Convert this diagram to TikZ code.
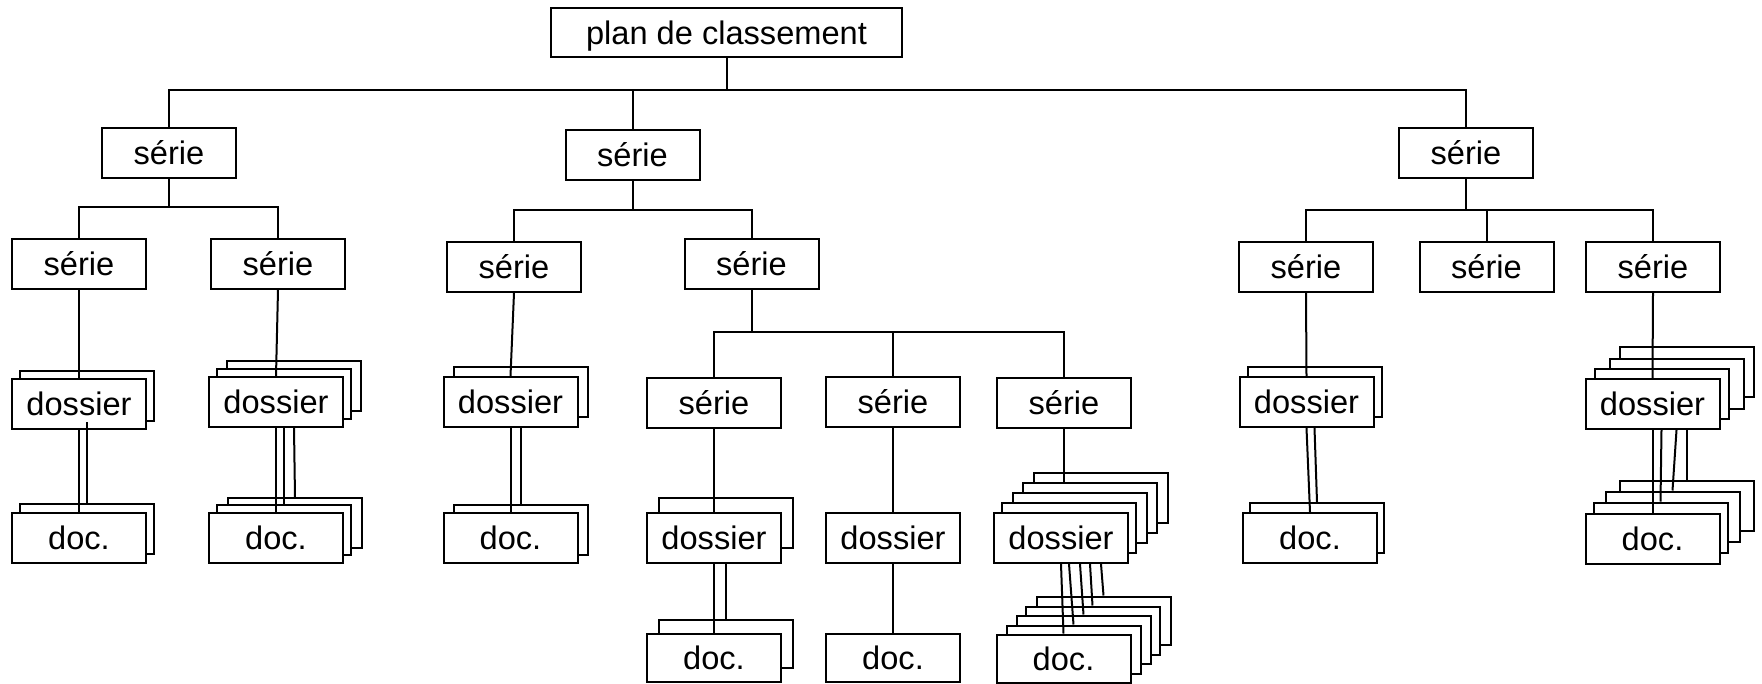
\documentclass[tikz,border=0pt]{standalone}
\usepackage{fontspec}
\setmainfont{Liberation Sans}
\tikzset{
  box/.style={draw, fill=white, line width=2pt, minimum width=134, minimum height=50,
    inner sep=0pt, text height=23.5pt, text depth=0pt, font=\fontsize{32.6}{39}\selectfont},
  short/.style={minimum height=48},
  conn/.style={line width=2pt}
}
% #1 extra style, #2 name, #3 cx, #4 cy, #5 text, #6 offsets of back sheets (back-most first)
\newcommand\mkstack[6][]{%
  \foreach \dx/\dy [count=\k] in {#6}{\node[box,#1] (#2-\k) at (#3+\dx,#4+\dy) {};}%
  \node[box,#1] (#2) at (#3,#4) {#5};%
}
\begin{document}
\begin{tikzpicture}[x=1pt,y=-1pt]
\useasboundingbox (0,0) rectangle (1762,683);
% tree nodes
\node[box, minimum width=351, minimum height=49] (root) at (726.5,32.5) {plan de classement};
\node[box] (s1) at (169,153) {série};
\node[box] (s2) at (632.5,155) {série};
\node[box] (s3) at (1466,153) {série};
\node[box] (s11) at (79,264) {série};
\node[box] (s12) at (278,264) {série};
\node[box] (s21) at (514,267) {série};
\node[box] (s22) at (751.5,263.5) {série};
\node[box] (s31) at (1306,267) {série};
\node[box] (s32) at (1486.5,267) {série};
\node[box] (s33) at (1653,267) {série};
\node[box] (s221) at (714,402.5) {série};
\node[box] (s222) at (893,402) {série};
\node[box] (s223) at (1064,402.5) {série};
% stacks
\mkstack{d11}{79}{404}{dossier}{8/-8}
\mkstack{c11}{79}{538}{doc.}{8/-9}
\mkstack{d12}{276}{402}{dossier}{18/-16,8/-8}
\mkstack{c12}{276}{538}{doc.}{19/-15,8/-8}
\mkstack{d21}{510.5}{402}{dossier}{10/-10}
\mkstack{c21}{510.5}{537.5}{doc.}{10/-8}
\mkstack{d221}{714}{538}{dossier}{12/-15}
\mkstack[short]{c221}{714}{658}{doc.}{12/-14}
\node[box] (d222) at (893,538) {dossier};
\node[box,short] (c222) at (893,658) {doc.};
\mkstack{d223}{1061}{538}{dossier}{40/-40,29/-30,19/-20,8/-10}
\mkstack[short]{c223}{1063.5}{658.5}{doc.}{40/-38,29/-28,20/-19,10/-9}
\mkstack{d31}{1306.5}{402}{dossier}{8/-10}
\mkstack{c31}{1310}{538}{doc.}{7/-10}
\mkstack{d33}{1652.5}{404}{dossier}{34/-32,24/-20,9/-10}
\mkstack{c33}{1652.5}{538.5}{doc.}{34/-33,20/-22,8/-11}
% bus levels
\coordinate (b0) at (0,90);
\coordinate (b1) at (0,207);
\coordinate (b2) at (0,210);
\coordinate (b3) at (0,210);
\coordinate (b4) at (0,332);
\begin{scope}[conn]
\draw (root.south) -- (root.south |- b0);
\draw (s1.north) -- (s1.north |- b0) -- (s3.north |- b0) -- (s3.north);
\draw (s2.north) -- (s2.north |- b0);
\draw (s1.south) -- (s1.south |- b1);
\draw (s11.north) -- (s11.north |- b1) -- (s12.north |- b1) -- (s12.north);
\draw (s2.south) -- (s2.south |- b2);
\draw (s21.north) -- (s21.north |- b2) -- (s22.north |- b2) -- (s22.north);
\draw (s3.south) -- (s3.south |- b3);
\draw (s31.north) -- (s31.north |- b3) -- (s33.north |- b3) -- (s33.north);
\draw (s32.north) -- (s32.north |- b3);
\draw (s22.south) -- (s22.south |- b4);
\draw (s221.north) -- (s221.north |- b4) -- (s223.north |- b4) -- (s223.north);
\draw (s222.north) -- (s222.north |- b4);
% serie -> dossier
\draw (s11.south) -- (d11.north);
\draw (s12.south) -- (d12.north);
\draw (s21.south) -- (d21.north);
\draw (s221.south) -- (d221.north);
\draw (s222.south) -- (d222.north);
\draw (s223.south) -- (s223.south |- d223-2.north);
\draw (s31.south) -- (d31.north);
\draw (s33.south) -- (d33.north);
% dossier -> doc
\draw (d11.south) -- (c11.north);
\draw (d11-1.south) -- (c11-1.north);
\draw (d12.south) -- (c12.north);
\draw (d12-2.center |- d12.south) -- (c12-2.north);
\draw (d12-1.center |- d12.south) -- (c12-1.north);
\draw (d21.south) -- (c21.north);
\draw (d21-1.center |- d21.south) -- (c21-1.north);
\draw (d221.south) -- (c221.north);
\draw (d221-1.center |- d221.south) -- (c221-1.north);
\draw (d222.south) -- (c222.north);
\draw (d223.south) -- (c223.north);
\draw (d223-4.center |- d223.south) -- (c223-4.north);
\draw (d223-3.center |- d223.south) -- (c223-3.north);
\draw (d223-2.center |- d223.south) -- (c223-2.north);
\draw (d223-1.center |- d223.south) -- (c223-1.north);
\draw (d31.south) -- (c31.north);
\draw (d31-1.center |- d31.south) -- (c31-1.north);
\draw (d33.south) -- (c33.north);
\draw (d33-3.center |- d33.south) -- (c33-3.north);
\draw (d33-2.center |- d33.south) -- (c33-2.north);
\draw (d33-1.center |- d33.south) -- (c33-1.north);
\end{scope}
\end{tikzpicture}
\end{document}
